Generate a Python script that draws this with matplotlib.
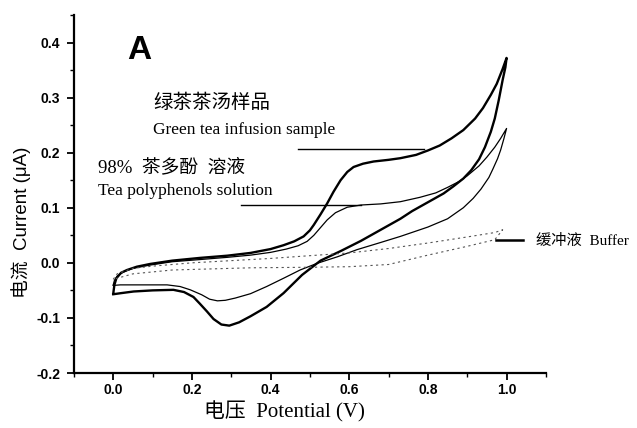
import matplotlib
matplotlib.use("Agg")
import matplotlib.pyplot as plt
from matplotlib.ticker import MultipleLocator

plt.rcParams['font.family'] = ['Liberation Sans', 'Noto Sans CJK SC']

# Cyclic voltammograms: forward scan then reverse scan (potential V, current uA)
tea_potential = [0.0, 0.003, 0.008, 0.02, 0.035, 0.06, 0.094, 0.15, 0.221, 0.29, 0.349, 0.40, 0.433,
                 0.46, 0.484, 0.50, 0.51, 0.527, 0.544, 0.56, 0.578, 0.595, 0.611, 0.635, 0.662, 0.70,
                 0.73, 0.77, 0.80, 0.83, 0.86, 0.89, 0.92, 0.94, 0.96, 0.975, 0.99, 1.0,
                 0.997, 0.99, 0.98, 0.97, 0.96, 0.945, 0.93, 0.91, 0.89, 0.865, 0.84, 0.80, 0.76,
                 0.73, 0.68, 0.63, 0.58, 0.527, 0.48, 0.433, 0.39, 0.349, 0.32, 0.295, 0.275, 0.255,
                 0.238, 0.22, 0.204, 0.18, 0.153, 0.10, 0.052, 0.02, 0.0]
tea_current = [-0.056, -0.040, -0.028, -0.018, -0.013, -0.007, -0.002, 0.004, 0.009, 0.013, 0.018, 0.025, 0.032,
               0.039, 0.048, 0.059, 0.069, 0.088, 0.108, 0.129, 0.150, 0.165, 0.174, 0.180, 0.184, 0.187,
               0.190, 0.196, 0.204, 0.213, 0.226, 0.241, 0.262, 0.281, 0.305, 0.325, 0.352, 0.372,
               0.355, 0.332, 0.295, 0.262, 0.238, 0.210, 0.188, 0.168, 0.153, 0.139, 0.126, 0.110, 0.094,
               0.080, 0.060, 0.040, 0.022, 0.004, -0.022, -0.055, -0.080, -0.097, -0.108, -0.114, -0.112, -0.102,
               -0.088, -0.074, -0.062, -0.053, -0.049, -0.050, -0.052, -0.055, -0.057]

poly_potential = [0.0, 0.003, 0.01, 0.025, 0.05, 0.094, 0.15, 0.221, 0.29, 0.349, 0.40, 0.44, 0.47,
                  0.493, 0.51, 0.527, 0.544, 0.565, 0.595, 0.63, 0.68, 0.73, 0.78, 0.82, 0.85, 0.88,
                  0.90, 0.93, 0.95, 0.97, 0.985, 1.0,
                  0.993, 0.985, 0.977, 0.965, 0.955, 0.935, 0.915, 0.89, 0.85, 0.80, 0.73, 0.68, 0.62,
                  0.57, 0.518, 0.475, 0.433, 0.39, 0.349, 0.31, 0.285, 0.265, 0.245, 0.225, 0.196, 0.17,
                  0.137, 0.08, 0.018, 0.0]
poly_current = [-0.040, -0.032, -0.024, -0.017, -0.010, -0.004, 0.002, 0.006, 0.010, 0.014, 0.019, 0.025, 0.031,
                0.039, 0.050, 0.064, 0.078, 0.091, 0.101, 0.105, 0.107, 0.111, 0.119, 0.127, 0.137, 0.148,
                0.158, 0.176, 0.192, 0.210, 0.226, 0.244,
                0.225, 0.205, 0.189, 0.170, 0.155, 0.134, 0.117, 0.100, 0.080, 0.065, 0.048, 0.037, 0.024,
                0.011, -0.001, -0.013, -0.028, -0.043, -0.056, -0.064, -0.068, -0.069, -0.066, -0.058, -0.049, -0.043,
                -0.040, -0.040, -0.040, -0.041]

buffer_potential = [0.0, 0.01, 0.05, 0.10, 0.20, 0.30, 0.40, 0.50, 0.60, 0.70, 0.80, 0.90, 0.97, 0.99,
                    0.97, 0.90, 0.80, 0.70, 0.60, 0.50, 0.35, 0.15, 0.05, 0.0]
buffer_current = [-0.030, -0.020, -0.010, -0.006, 0.000, 0.004, 0.008, 0.013, 0.018, 0.026, 0.036, 0.047, 0.055, 0.060,
                  0.042, 0.030, 0.014, -0.003, -0.007, -0.008, -0.009, -0.013, -0.020, -0.030]

# Leader lines from the labels to their curves
tea_leader_x, tea_leader_y = [0.471, 0.79], [0.207, 0.207]
poly_leader_x, poly_leader_y = [0.324, 0.629], [0.105, 0.105]
buffer_leader_x, buffer_leader_y = [0.973, 1.042], [0.042, 0.042]

fig = plt.figure(figsize=(6.37, 4.28), dpi=100)
ax = fig.add_axes([0.116, 0.1285, 0.741, 0.8365])

ax.plot(tea_potential, tea_current, color='black', lw=1.7, solid_joinstyle='round')
ax.plot(poly_potential, poly_current, color='black', lw=0.9, solid_joinstyle='round')
ax.plot(buffer_potential, buffer_current, color='#555555', lw=0.8, ls=(0, (2, 3)))

ax.plot(tea_leader_x, tea_leader_y, color='black', lw=1.0)
ax.plot(poly_leader_x, poly_leader_y, color='black', lw=1.0)
ax.plot(buffer_leader_x, buffer_leader_y, color='black', lw=1.8, clip_on=False)

ax.set_xlim(-0.1, 1.1)
ax.set_ylim(-0.2, 0.45)
ax.xaxis.set_minor_locator(MultipleLocator(0.1))
ax.yaxis.set_minor_locator(MultipleLocator(0.05))
ax.set_xticks([0.0, 0.2, 0.4, 0.6, 0.8, 1.0])
ax.set_xticklabels(['0.0', '0.2', '0.4', '0.6', '0.8', '1.0'])
ax.set_yticks([-0.2, -0.1, 0.0, 0.1, 0.2, 0.3, 0.4])
ax.set_yticklabels(['-0.2', '-0.1', '0.0', '0.1', '0.2', '0.3', '0.4'])

for s in ['top', 'right']:
    ax.spines[s].set_visible(False)
for s in ['left', 'bottom']:
    ax.spines[s].set_linewidth(1.6)
ax.tick_params(which='major', direction='out', length=5, width=1.3, labelsize=10, pad=5)
ax.tick_params(axis='x', which='major', pad=2)
ax.tick_params(which='minor', direction='out', length=3, width=1.0)
for lab in ax.get_xticklabels() + ax.get_yticklabels():
    lab.set_fontweight('bold')

serif = ['Liberation Serif', 'Noto Sans CJK SC']
ax.set_xlabel('电压  Potential (V)', family=serif, fontsize=15)
ax.xaxis.set_label_coords(0.445, -0.08)
ax.set_ylabel('电流  Current (μA)', family=['Liberation Sans', 'Noto Sans CJK SC'], fontsize=13.5)
ax.yaxis.set_label_coords(-0.09, 0.42)

ax.text(0.036, 0.385, 'A', fontsize=24, fontweight='bold', va='center', ha='left')
ax.text(0.102, 0.290, '绿茶茶汤样品', family=serif, fontsize=14, va='center', ha='left')
ax.text(0.102, 0.241, 'Green tea infusion sample', family=serif, fontsize=12.5, va='center', ha='left')
ax.text(-0.038, 0.174, '98%  茶多酚  溶液', family=serif, fontsize=13.5, va='center', ha='left')
ax.text(-0.038, 0.131, 'Tea polyphenols solution', family=serif, fontsize=12.5, va='center', ha='left')
ax.text(1.076, 0.040, '缓冲液  Buffer', family=serif, fontsize=11, va='center', ha='left',
        clip_on=False)

fig.savefig('out.png', dpi=100)
